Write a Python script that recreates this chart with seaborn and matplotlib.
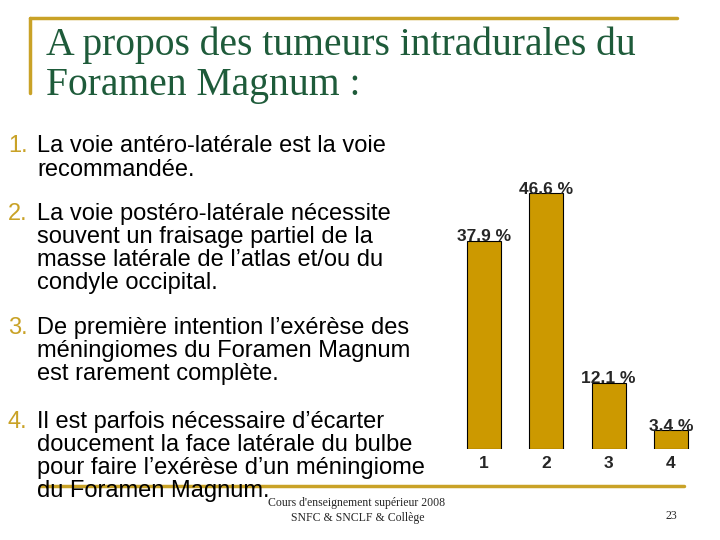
import matplotlib
matplotlib.use("Agg")
import matplotlib.pyplot as plt
import seaborn as sns
import pandas as pd

# data
categories = ["1", "2", "3", "4"]
percents = [37.9, 46.6, 12.1, 3.4]

title_lines = ["A propos des tumeurs intradurales du", "Foramen Magnum :"]
items = [
    ["La voie antéro-latérale est la voie", "recommandée."],
    ["La voie postéro-latérale nécessite", "souvent un fraisage partiel de la",
     "masse latérale de l\u2019atlas et/ou du", "condyle occipital."],
    ["De première intention l\u2019exérèse des", "méningiomes du Foramen Magnum",
     "est rarement complète."],
    ["Il est parfois nécessaire d\u2019écarter", "doucement la face latérale du bulbe",
     "pour faire l\u2019exérèse d\u2019un méningiome", "du Foramen Magnum."],
]
item_baselines = [152, 220, 334, 428]  # pixel baseline of first line of each item

gold = "#C9A227"
bar_col = "#CC9900"
green = "#1E5B3A"

sns.set_theme(style="white")
plt.rcParams["font.family"] = ["Liberation Sans", "DejaVu Sans"]

W, H = 720, 540
fig = plt.figure(figsize=(7.2, 5.4), dpi=100)

def fx(x):
    return x / W

def fy(y):
    return 1 - y / H

# decorative frame lines
fig.add_artist(plt.Line2D([fx(30), fx(677)], [fy(18), fy(18)], color=gold, lw=2.5))
fig.add_artist(plt.Line2D([fx(30), fx(30)], [fy(18), fy(93)], color=gold, lw=2.5))
fig.add_artist(plt.Line2D([fx(40), fx(684)], [fy(486), fy(486)], color=gold, lw=2.5))

# title
for i, line in enumerate(title_lines):
    fig.text(fx(46), fy(55 + 40 * i), line, family="Liberation Serif", fontsize=28.5,
             color=green, va="baseline", ha="left")

# numbered items
for n, (lines, y0) in enumerate(zip(items, item_baselines)):
    fig.text(fx(8), fy(y0), f"{n + 1}.", fontsize=17, color=gold, va="baseline", ha="left")
    step = 24 if n == 0 else 23
    for k, line in enumerate(lines):
        fig.text(fx(37), fy(y0 + step * k), line, fontsize=17, color="black",
                 va="baseline", ha="left")

# footer
fig.text(fx(268), fy(503), "Cours d'enseignement supérieur 2008", family="Liberation Serif",
         fontsize=8.5, va="center", ha="left")
fig.text(fx(358), fy(518), "SNFC & SNCLF & Collège", family="Liberation Serif",
         fontsize=8.5, va="center", ha="center")
fig.text(fx(671), fy(516), "23", family="Liberation Serif", fontsize=8.5,
         va="center", ha="center")

# bar chart
ax = fig.add_axes([453 / W, 1 - 449 / H, 249 / W, 274.5 / H])
df = pd.DataFrame({"cat": categories, "pct": percents})
sns.barplot(data=df, x="cat", y="pct", color=bar_col, width=0.545, saturation=1,
            edgecolor="black", linewidth=0.8, ax=ax)
ax.set_xlim(-0.5, 3.5)
ax.set_ylim(0, 50)
for c in ax.containers:
    ax.bar_label(c, labels=[f"{v} %" for v in percents], padding=-2.5,
                 fontsize=12.5, fontweight="bold")
ax.set_yticks([])
ax.set_xlabel("")
ax.set_ylabel("")
ax.tick_params(axis="x", length=0, pad=5, labelsize=12.5)
for t in ax.get_xticklabels():
    t.set_fontweight("bold")
for s in ax.spines.values():
    s.set_visible(False)
ax.patch.set_alpha(0)

fig.savefig("out.png", dpi=100)
